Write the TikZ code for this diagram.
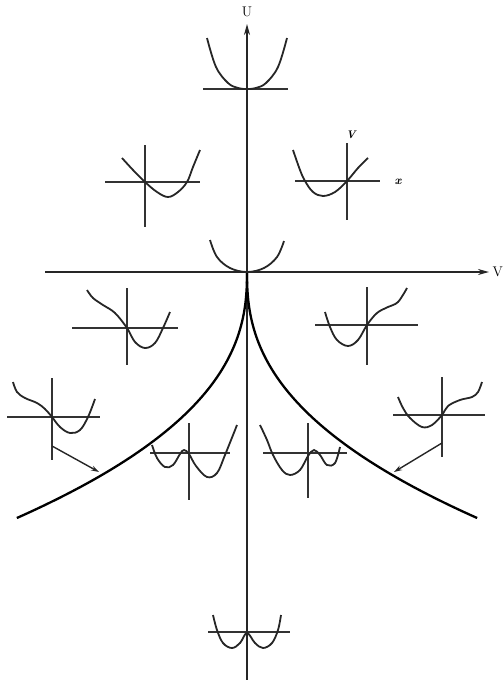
\documentclass[tikz,border=0pt]{standalone}
\usetikzlibrary{arrows.meta}
\begin{document}
\begin{tikzpicture}[x=1pt,y=-1pt,
  axisline/.style={line width=1.7pt,draw=black!85},
  miniaxis/.style={line width=1.6pt,draw=black!80},
  potcurve/.style={line width=1.8pt,draw=black!85,smooth,tension=0.6},
  cuspline/.style={line width=2.3pt,draw=black},
  lbl/.style={inner sep=0pt},
  ptr/.style={line width=1.4pt,draw=black!85,-{Stealth[length=8pt,width=5pt]}}]
\useasboundingbox (0,0) rectangle (503,680);
% main axes
\coordinate (ubot) at (247,680);
\coordinate (utop) at (247,24);
\coordinate (vleft) at (45,272);
\coordinate (vright) at (489,272);
\draw[axisline,-{Stealth[length=11pt,width=6pt]}] (ubot) -- (utop);
\draw[axisline,-{Stealth[length=11pt,width=6pt]}] (vleft) -- (vright);
\node[lbl,font=\fontsize{14}{14}\selectfont] (U) at (247,12) {U};
\node[lbl,anchor=east,font=\fontsize{14}{14}\selectfont] (V) at (503,272) {V};
% cusp
\draw[cuspline] (247,272) -- plot[domain=0.2:246,samples=80] ({247-48*(\x/128)^2.4},{272+\x});
\draw[cuspline] (247,272) -- plot[domain=0.2:246,samples=80] ({247+48*(\x/128)^2.4},{272+\x});
% G1 top
\draw[miniaxis] (203,89) -- (288,89);
\draw[potcurve] plot coordinates {(207,38) (216,67) (228,83) (238,88) (247,89) (256,88) (266,83) (278,67) (287,38)};
% G2 upper-left
\draw[miniaxis] (105,182) -- (200,182);
\draw[miniaxis] (145,145) -- (145,227);
\draw[potcurve] plot coordinates {(122,158) (133,170) (145,182) (157,192) (168,197) (178,192) (187,182) (193,167) (200,150)};
% G3 upper-right
\draw[miniaxis] (295,181) -- (380,181);
\draw[miniaxis] (347,143) -- (347,220);
\draw[potcurve] plot coordinates {(293,150) (300,170) (305,181) (313,192) (323,196) (335,192) (347,181) (358,168) (368,158)};
\node[lbl,font=\fontsize{12}{12}\selectfont\bfseries\itshape] (xl) at (398,182) {x};
\node[lbl,font=\fontsize{11}{11}\selectfont\bfseries\itshape] (Vl) at (351,135) {V};
% G4 origin
\draw[potcurve] plot coordinates {(210,240) (217,257) (230,268) (247,272) (264,268) (277,257) (284,241)};
% G5 mid-left
\draw[miniaxis] (72,328) -- (178,328);
\draw[miniaxis] (127,288) -- (127,365);
\draw[potcurve] plot coordinates {(87,290) (93,298) (103,305) (115,313) (127,328) (135,342) (145,348) (155,343) (163,328) (170,312)};
% G6 mid-right
\draw[miniaxis] (315,325) -- (418,325);
\draw[miniaxis] (367,287) -- (367,365);
\draw[potcurve] plot coordinates {(325,312) (330,327) (337,340) (348,346) (358,340) (367,325) (377,313) (388,307) (398,302) (407,288)};
% G7 lower-left
\draw[miniaxis] (7,417) -- (100,417);
\draw[miniaxis] (52,378) -- (52,460);
\draw[potcurve] plot coordinates {(13,382) (17,392) (25,398) (37,403) (45,409) (52,417) (60,427) (70,433) (80,430) (88,417) (95,399)};
\coordinate (a1s) at (52,446);
\coordinate (a1e) at (99,472);
\draw[ptr] (a1s) -- (a1e);
% G8 lower-right
\draw[miniaxis] (393,415) -- (485,415);
\draw[miniaxis] (442,377) -- (442,457);
\draw[potcurve] plot coordinates {(398,397) (403,408) (410,418) (422,427) (432,425) (442,415) (448,406) (460,400) (472,397) (478,392) (482,382)};
\coordinate (a2s) at (442,443);
\coordinate (a2e) at (394,472);
\draw[ptr] (a2s) -- (a2e);
% G9 inner-left
\draw[miniaxis] (150,453) -- (230,453);
\draw[miniaxis] (189,423) -- (189,500);
\draw[potcurve] plot coordinates {(152,445) (157,458) (165,467) (173,465) (180,454) (184,450) (189,454) (196,466) (207,477) (217,473) (225,455) (237,425)};
% G10 inner-right
\draw[miniaxis] (263,453) -- (347,453);
\draw[miniaxis] (308,423) -- (308,498);
\draw[potcurve] plot coordinates {(260,425) (267,440) (273,455) (282,470) (290,475) (300,470) (308,456) (314,450) (320,455) (327,465) (335,463) (340,447)};
% G11 bottom
\draw[miniaxis] (208,632) -- (290,632);
\draw[potcurve] plot coordinates {(213,615) (217,630) (223,643) (232,648) (240,643) (247,633) (255,643) (263,648) (272,643) (278,630) (281,615)};
\end{tikzpicture}
\end{document}
